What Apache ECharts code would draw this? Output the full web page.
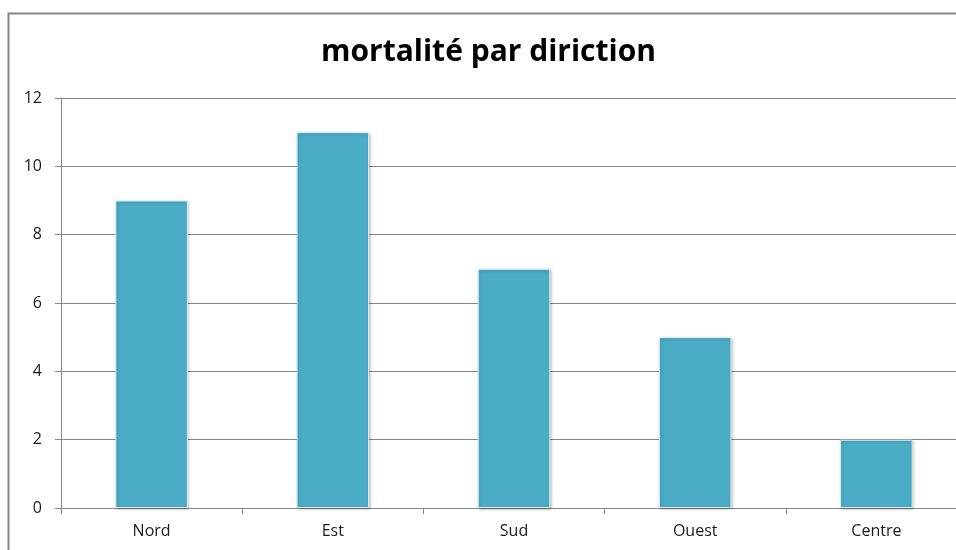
<!DOCTYPE html>
<html>
<head>
<meta charset="utf-8">
<script src="https://cdn.jsdelivr.net/npm/echarts@6/dist/echarts.min.js"></script>
<style>
  html, body { margin: 0; padding: 0; background: #fff; }
  #chart { width: 956px; height: 550px; }
</style>
</head>
<body>
<div id="chart"></div>
<script>
const directions = ['Nord', 'Est', 'Sud', 'Ouest', 'Centre']
const deaths = [9, 11, 7, 5, 2]
const yTicks = { min: 0, max: 12, step: 2 }

const chart = echarts.init(document.getElementById('chart'), null, { renderer: 'canvas' })

const option = {
  animation: false,
  title: {
    text: 'mortalité par diriction',
    left: 316,
    top: 32,
    textStyle: {
      fontFamily: 'Open Sans',
      fontWeight: 'bold',
      fontSize: 30,
      color: '#000'
    }
  },
  graphic: [
    {
      type: 'rect',
      shape: { x: 8.5, y: 13.5, width: 960, height: 560 },
      style: { fill: 'none', stroke: '#868686', lineWidth: 2 }
    }
  ],
  // plot runs past the right edge of the window in the reference
  grid: { left: 61, width: 906, top: 98, bottom: 42, outerBoundsMode: 'none', containLabel: false },
  xAxis: {
    type: 'category',
    data: directions,
    axisLine: { lineStyle: { color: '#868686', width: 1 } },
    axisTick: { show: true, length: 6, inside: false, lineStyle: { color: '#868686' } },
    axisLabel: { color: '#1a1a1a', fontSize: 16, fontFamily: 'Open Sans', margin: 15 }
  },
  yAxis: {
    type: 'value',
    min: yTicks.min,
    max: yTicks.max,
    interval: yTicks.step,
    axisLine: { show: true, lineStyle: { color: '#868686', width: 1 } },
    axisTick: { show: true, length: 6, lineStyle: { color: '#868686' } },
    axisLabel: { color: '#1a1a1a', fontSize: 16, fontFamily: 'Open Sans', margin: 19 },
    splitLine: { lineStyle: { color: '#868686', width: 1 } }
  },
  series: [
    {
      type: 'bar',
      data: deaths,
      barWidth: '40%',
      itemStyle: {
        color: '#4BACC6',
        borderColor: '#d9eef3',
        borderWidth: 1,
        shadowColor: 'rgba(0,0,0,0.25)',
        shadowBlur: 3,
        shadowOffsetX: 1,
        shadowOffsetY: 1
      }
    }
  ]
}

chart.setOption(option)
</script>
</body>
</html>
